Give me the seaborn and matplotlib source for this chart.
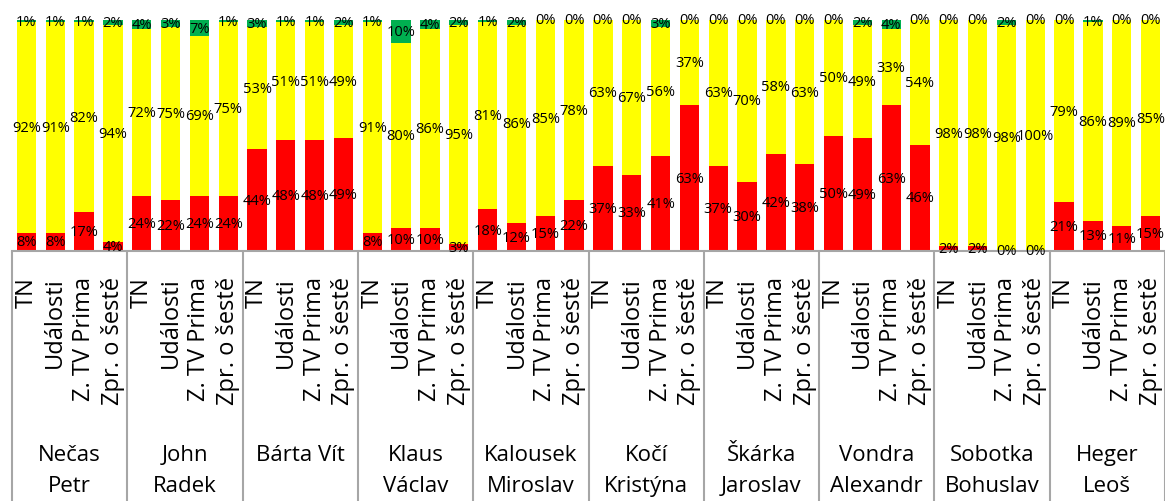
import numpy as np
import pandas as pd
import seaborn as sns
import matplotlib
matplotlib.use("Agg")
import matplotlib.pyplot as plt
import matplotlib.transforms as mtransforms

groups = ["Nečas\nPetr", "John\nRadek", "Bárta Vít", "Klaus\nVáclav", "Kalousek\nMiroslav",
          "Kočí\nKristýna", "Škárka\nJaroslav", "Vondra\nAlexandr", "Sobotka\nBohuslav", "Heger\nLeoš"]
channels = ["TN", "Události", "Z. TV Prima", "Zpr. o šestě"]

red = [8, 8, 17, 4,
       24, 22, 24, 24,
       44, 48, 48, 49,
       8, 10, 10, 3,
       18, 12, 15, 22,
       37, 33, 41, 63,
       37, 30, 42, 38,
       50, 49, 63, 46,
       2, 2, 0, 0,
       21, 13, 11, 15]
yellow = [92, 91, 82, 94,
          72, 75, 69, 75,
          53, 51, 51, 49,
          91, 80, 86, 95,
          81, 86, 85, 78,
          63, 67, 56, 37,
          63, 70, 58, 63,
          50, 49, 33, 54,
          98, 98, 98, 100,
          79, 86, 89, 85]
green = [1, 1, 1, 2,
         4, 3, 7, 1,
         3, 1, 1, 2,
         1, 10, 4, 2,
         1, 2, 0, 0,
         0, 0, 3, 0,
         0, 0, 0, 0,
         0, 2, 4, 0,
         0, 0, 2, 0,
         0, 1, 0, 0]

C_RED = "#FF0000"
C_YEL = "#FFFF00"
C_GRN = "#00B050"

rows = []
for gi, g in enumerate(groups):
    for ci, c in enumerate(channels):
        i = gi * 4 + ci
        r, y, gr = red[i], yellow[i], green[i]
        tot = r + y + gr
        rows.append(dict(key=f"{gi}-{ci}", group=g, channel=c,
                         red=r, yellow=y, green=gr,
                         r_n=r / tot, y_n=y / tot, g_n=gr / tot))
df = pd.DataFrame(rows)
df["cum_red"] = df["r_n"]
df["cum_yel"] = df["r_n"] + df["y_n"]
df["cum_grn"] = df["r_n"] + df["y_n"] + df["g_n"]
order = list(df["key"])

sns.set_theme(style="white")
plt.rcParams["font.family"] = ["Open Sans", "DejaVu Sans"]

W, H = 1165, 502
fig = plt.figure(figsize=(W / 100, H / 100), dpi=100)
ax = fig.add_axes([12 / W, 250 / H, 1153 / W, 231 / H])

bw = 0.67
sns.barplot(data=df, x="key", y="cum_grn", order=order, color=C_GRN, saturation=1,
            width=bw, errorbar=None, linewidth=0, ax=ax)
sns.barplot(data=df, x="key", y="cum_yel", order=order, color=C_YEL, saturation=1,
            width=bw, errorbar=None, linewidth=0, ax=ax)
sns.barplot(data=df, x="key", y="cum_red", order=order, color=C_RED, saturation=1,
            width=bw, errorbar=None, linewidth=0, ax=ax)

ax.set_xlim(-0.5, len(order) - 0.5)
ax.set_ylim(0, 1)
ax.set_xlabel("")
ax.set_ylabel("")
ax.set_yticks([])

# data labels
LFS = 10.5
for i, row in df.iterrows():
    ax.text(i, row["r_n"] / 2, f"{row['red']}%", ha="center", va="center", fontsize=LFS, color="black")
    ax.text(i, row["r_n"] + row["y_n"] / 2, f"{row['yellow']}%", ha="center", va="center", fontsize=LFS, color="black")
    ax.text(i, row["cum_yel"] + row["g_n"] / 2, f"{row['green']}%", ha="center", va="center", fontsize=LFS, color="black")

# channel tick labels
ax.set_xticks(range(len(order)))
ax.set_xticklabels(list(df["channel"]), rotation=90, fontsize=17, color="black")
ax.tick_params(axis="x", length=0, pad=18)

for s in ["top", "right", "left"]:
    ax.spines[s].set_visible(False)
ax.spines["bottom"].set_color("#A6A6A6")
ax.spines["bottom"].set_linewidth(1.5)

trans = mtransforms.blended_transform_factory(ax.transData, ax.transAxes)
ax_h = 231.0
def yfrac(py):
    return (252 - py) / ax_h

# group separators
for gi in range(len(groups) + 1):
    x = gi * 4 - 0.5
    ax.plot([x, x], [0, yfrac(502)], transform=trans, color="#A6A6A6", lw=1.5,
            clip_on=False, solid_capstyle="butt")

# group names
for gi, g in enumerate(groups):
    xc = gi * 4 + 1.5
    for li, line in enumerate(g.split("\n")):
        ax.text(xc, yfrac(461 + 31 * li), line, transform=trans, ha="center", va="baseline",
                fontsize=16, color="black")

fig.savefig("out.png", dpi=100)
